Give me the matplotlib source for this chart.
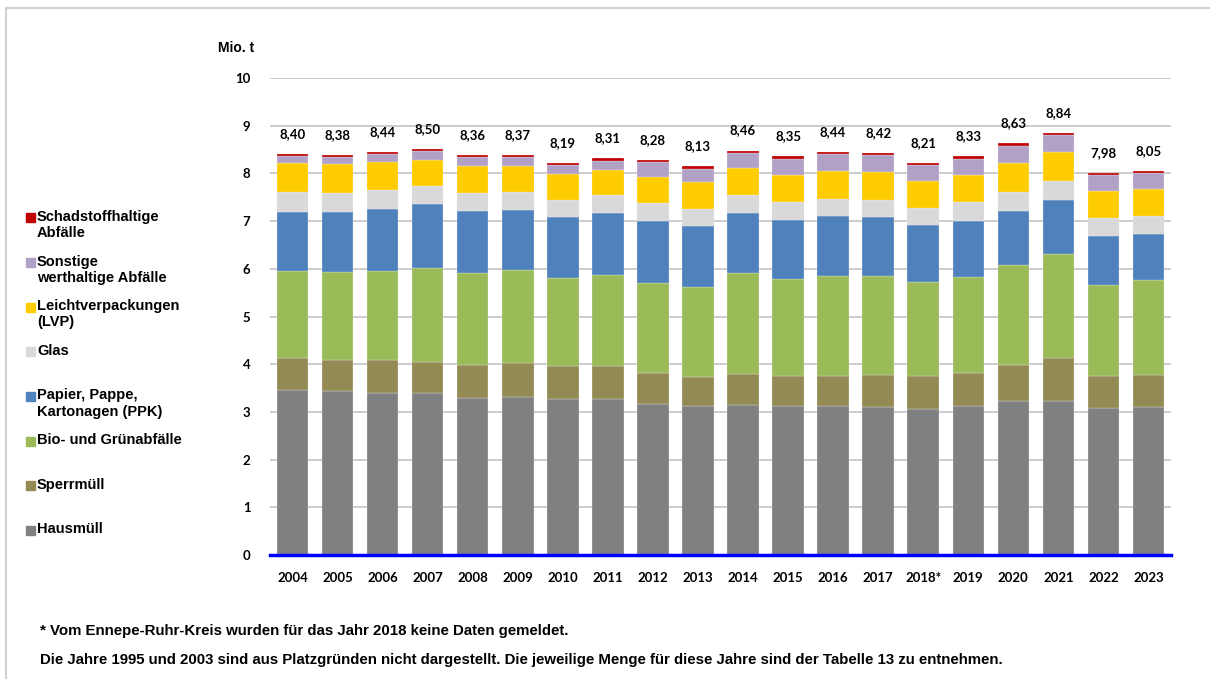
import matplotlib
matplotlib.use("Agg")
import matplotlib.pyplot as plt
from matplotlib.lines import Line2D
from matplotlib.patches import Rectangle
import numpy as np

years = ["2004", "2005", "2006", "2007", "2008", "2009", "2010", "2011", "2012", "2013",
         "2014", "2015", "2016", "2017", "2018*", "2019", "2020", "2021", "2022", "2023"]

hausmuell = [3.46, 3.44, 3.40, 3.39, 3.30, 3.32, 3.27, 3.27, 3.16, 3.12,
             3.14, 3.12, 3.13, 3.11, 3.07, 3.12, 3.22, 3.22, 3.08, 3.11]
sperrmuell = [0.66, 0.65, 0.68, 0.66, 0.68, 0.70, 0.69, 0.69, 0.65, 0.61,
              0.65, 0.64, 0.63, 0.66, 0.68, 0.69, 0.76, 0.90, 0.67, 0.66]
bio = [1.83, 1.84, 1.87, 1.96, 1.93, 1.95, 1.85, 1.90, 1.90, 1.89,
       2.12, 2.02, 2.09, 2.08, 1.97, 2.02, 2.09, 2.20, 1.90, 2.00]
ppk = [1.24, 1.27, 1.30, 1.34, 1.31, 1.27, 1.27, 1.31, 1.29, 1.27,
       1.27, 1.25, 1.25, 1.23, 1.19, 1.18, 1.15, 1.12, 1.04, 0.97]
glas = [0.43, 0.39, 0.40, 0.38, 0.36, 0.36, 0.37, 0.38, 0.38, 0.37,
        0.37, 0.36, 0.36, 0.36, 0.36, 0.38, 0.40, 0.40, 0.37, 0.36]
lvp = [0.60, 0.60, 0.58, 0.55, 0.57, 0.55, 0.54, 0.53, 0.54, 0.55,
       0.56, 0.58, 0.58, 0.58, 0.57, 0.57, 0.59, 0.60, 0.57, 0.58]
sonstige = [0.15, 0.15, 0.18, 0.19, 0.19, 0.19, 0.18, 0.19, 0.31, 0.29,
            0.32, 0.34, 0.36, 0.36, 0.33, 0.35, 0.37, 0.36, 0.33, 0.32]
schadstoff = [0.04, 0.05, 0.04, 0.05, 0.05, 0.05, 0.04, 0.05, 0.05, 0.05,
              0.05, 0.05, 0.04, 0.05, 0.05, 0.05, 0.05, 0.05, 0.05, 0.05]
totals = ["8,40", "8,38", "8,44", "8,50", "8,36", "8,37", "8,19", "8,31", "8,28", "8,13",
          "8,46", "8,35", "8,44", "8,42", "8,21", "8,33", "8,63", "8,84", "7,98", "8,05"]

series = [
    ("Hausmüll", hausmuell, "#808080"),
    ("Sperrmüll", sperrmuell, "#948A54"),
    ("Bio- und Grünabfälle", bio, "#9BBB59"),
    ("Papier, Pappe,\nKartonagen (PPK)", ppk, "#4F81BD"),
    ("Glas", glas, "#D9D9D9"),
    ("Leichtverpackungen\n(LVP)", lvp, "#FFCC00"),
    ("Sonstige\nwerthaltige Abfälle", sonstige, "#B2A1C7"),
    ("Schadstoffhaltige\nAbfälle", schadstoff, "#C00000"),
]

W, H = 1210, 679
fig = plt.figure(figsize=(W / 100, H / 100), dpi=100)


def fx(px):
    return px / W


def fy(py):
    return 1 - py / H


ax = fig.add_axes([fx(270), fy(555), fx(1171) - fx(270), fy(78) - fy(555)])

x = np.arange(len(years))
bottom = np.zeros(len(years))
for name, vals, color in series:
    ax.bar(x, vals, width=0.7, bottom=bottom, color=color,
           edgecolor="#f2f2f2", linewidth=0.2, zorder=3)
    bottom += np.array(vals)

for xi, top, lab in zip(x, bottom, totals):
    ax.annotate(lab, (xi, top), xytext=(0, 14), textcoords="offset pixels",
                ha="center", va="bottom", fontsize=9.5, fontweight="bold",
                family="Lato", color="black")

ax.set_xlim(-0.5, len(years) - 0.5)
ax.set_ylim(0, 10)
ax.set_yticks(range(0, 11))
ax.yaxis.grid(True, color="#c8c8c8", linewidth=1.3, zorder=0)
ax.set_axisbelow(True)
for s in ["top", "right", "left"]:
    ax.spines[s].set_visible(False)
ax.spines["bottom"].set_color("#0000FF")
ax.spines["bottom"].set_linewidth(2.5)
ax.spines["bottom"].set_zorder(5)
ax.tick_params(axis="both", length=0)
ax.tick_params(axis="y", pad=14)
ax.tick_params(axis="x", pad=12)
ax.set_xticks(x)
ax.set_xticklabels(years)
for lbl in ax.get_xticklabels() + ax.get_yticklabels():
    lbl.set_fontfamily("Lato")
    lbl.set_fontweight("bold")
    lbl.set_fontsize(9.5)

fig.text(fx(218), fy(48), "Mio. t", ha="left", va="center",
         fontsize=10, fontweight="bold", family="Liberation Sans")

# legend drawn by hand, Excel style
for i, (name, vals, color) in enumerate(reversed(series)):
    yc = 218 + i * 44.6
    fig.patches.append(Rectangle((fx(26), fy(yc + 4.5)), fx(9), 9 / H,
                                 transform=fig.transFigure, color=color))
    fig.text(fx(37), fy(yc - 8), name, ha="left", va="top", fontsize=10.5,
             fontweight="bold", family="Liberation Sans", linespacing=1.2)

fig.text(fx(40), fy(631), "* Vom Ennepe-Ruhr-Kreis wurden für das Jahr 2018 keine Daten gemeldet.",
         ha="left", va="center", fontsize=10.8, fontweight="bold", family="Liberation Sans")
fig.text(fx(40), fy(660),
         "Die Jahre 1995 und 2003 sind aus Platzgründen nicht dargestellt. "
         "Die jeweilige Menge für diese Jahre sind der Tabelle 13 zu entnehmen.",
         ha="left", va="center", fontsize=10.8, fontweight="bold", family="Liberation Sans")

# outer frame (top and left edges visible)
fig.add_artist(Line2D([fx(6), 1], [fy(8), fy(8)], transform=fig.transFigure,
                      color="#d0d0d0", linewidth=1.5))
fig.add_artist(Line2D([fx(6), fx(6)], [fy(8), 0], transform=fig.transFigure,
                      color="#d0d0d0", linewidth=1.5))

fig.savefig("out.png", dpi=100)
